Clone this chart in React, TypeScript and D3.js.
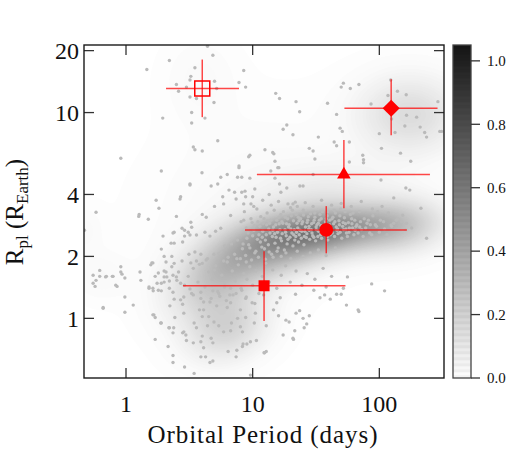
import React from "react";
import * as d3 from "d3";

// ---------- layout ----------
const W = 513;
const H = 451;
const PL = 84, PT = 45, PR = 444, PB = 378;

// ---------- axes ----------
const xDomain: [number, number] = [0.466, 324];
const yDomain: [number, number] = [0.513, 21.3];
const xTicks = [1, 10, 100];
const yTicks = [1, 2, 4, 10, 20];
const cbTicks = [0, 0.2, 0.4, 0.6, 0.8, 1.0];
const cbMax = 1.05;

// ---------- scatter points: [period (days), radius (R_Earth)] ----------
const largePlanetPoints: [number, number][] = [
  [4.4,21],[2.2,17.9],[1.46,16.2],[4.85,19],[3.5,16.5],[3.25,15],[3.2,14.4],[5.0,14.2],[8.5,16],[7.8,14],[8.8,13.3],
  [2.5,13.7],[3.0,13.3],[5.2,13.1],[2.6,12.7],[3.2,11.9],[3.6,11.7],[4.95,11.2],[3.3,10.0],[1.95,9.4],[3.3,8.9],
  [4.2,9.4],[5.3,7.3],[3.5,6.6],[4.0,6.5],[9.5,6.2],[0.91,6.0],
  [123,14.4],[52,13.9],[50,13.3],[59,13.1],[69,13.7],[15.2,12.4],[16.3,11.7],[22,11.3],[23.5,10.1],[39,11.1],
  [46,9.8],[86,11.0],[117,12.1],[139,12.7],[163,12.2],[290,11.3],[125,9.3],[164,9.7],[197,9.5],[159,8.6],
  [210,8.5],[228,8.0],[236,7.6],[133,8.0],[100,7.9],[300,8.1],[18.6,8.7],[17.4,8.3],[20.8,7.8],[33,7.6],
  [49,8.4],[51,8.1],[44,7.2],[46,6.9],[58,7.2],[28,6.7],[30,6.5],[31,5.95],[74,6.2],[104,6.7],[147,6.35],
  [177,5.8],[12.5,6.6],[14.4,6.4],[15,5.8],[58,5.75],[75,5.7],[310,8.1],[3.4,6.8],[9.3,6.1],[7.8,5.4]
];

const subNeptunePoints: [number, number][] = [
  [13.9,5.2],[15,4.8],[16.7,4.1],[18.6,4.3],[13.5,4.0],[16.1,5.4],[30,5.0],[103,4.7],[162,4.3],[130,3.85],
  [213,3.43],[25,4.4],[21.7,3.67],[14.7,6.3],[15.8,5.4],[8.2,4.85],[8.7,4.15],[10,3.9],[16.3,4.5],[23.6,4.4],
  [20.8,3.6],[75,5.9],[174,4.2],[1.9,5.2],[3.98,5.1],[7.8,5.5],[3.2,4.5],[4.7,4.4],[5.3,4.5],[5.6,4.85],
  [6.3,5.0],[7.6,4.85],[9.5,4.8],[10.4,4.25],[6.5,4.2],[7.2,4.1],[8.2,4.1],[5.8,3.9],[7.4,3.8],[8.8,3.9],
  [9.7,3.6],[2.67,3.8],[1.73,3.75],[1.82,3.43],[1.26,3.13],[1.5,3.03],[0.58,3.28],[2.5,3.13],[5.0,3.5],
  [5.9,3.6],[4.0,3.2],[4.3,3.1],[3.2,4.45],[2.7,3.9],[1.27,3.2],
  [236,2.45],[180,2.75],[164,2.9],[136,3.0],[124,2.84],[153,3.17],
  [8.5,3.6],[10.2,3.5],[12.0,3.75],[14.0,3.55],[16.0,3.7],[19.0,3.6],[22.5,3.5],[26.0,3.65],[30.0,3.5],
  [35.0,3.75],[42.0,3.55],[50.0,3.62],[60.0,3.5],[72.0,3.7],[88.0,3.4],[105,3.5]
];

const mainClusterPoints: [number, number][] = [
  [8.1,2.95],[8.6,3.3],[9.2,2.6],[9.7,3.05],[10.3,2.82],[10.8,3.4],[11.2,2.55],[11.6,3.12],[12.1,2.9],[12.6,2.4],
  [13.0,3.25],[13.4,2.72],[13.9,3.0],[14.3,2.5],[14.8,3.35],[15.2,2.85],[15.7,2.62],[16.1,3.1],[16.6,2.45],[17.0,2.95],
  [17.5,3.3],[18.0,2.7],[18.4,2.52],[18.9,3.05],[19.4,2.85],[19.9,3.45],[20.4,2.6],[21.0,2.98],[21.5,2.4],[22.1,3.2],
  [22.7,2.75],[23.3,2.55],[23.9,3.05],[24.5,2.88],[25.1,3.35],[25.8,2.65],[26.5,2.47],[27.2,3.0],[27.9,2.8],[28.6,3.22],
  [29.4,2.6],[30.2,2.92],[31.0,3.1],[31.8,2.7],[32.7,2.5],[33.6,3.0],[34.5,2.83],[35.5,3.3],[36.5,2.62],[37.6,2.95],
  [38.7,3.15],[39.8,2.72],[41.0,2.55],[42.3,3.05],[43.6,2.88],[45.0,3.25],[46.4,2.68],[48.0,2.98],[49.6,3.4],[51.3,2.8],
  [53.0,3.08],[55.0,2.6],[57.0,2.92],[59.2,3.2],[61.5,2.75],[64.0,3.0],[66.5,2.85],[69.5,3.3],[72.5,2.7],[76.0,3.05],
  [80.0,2.9],[84.0,2.6],[89.0,3.15],[95.0,2.8],[102,3.0],[110,2.72],[118,3.25],
  [8.4,2.3],[8.9,2.75],[9.5,2.2],[10.0,2.52],[10.6,2.12],[11.0,2.95],[11.5,2.35],[12.0,2.65],[12.4,2.18],[12.9,2.85],
  [13.3,2.28],[13.7,2.6],[14.1,2.05],[14.6,2.78],[15.0,2.32],[15.5,3.0],[15.9,2.2],[16.4,2.7],[16.9,2.38],[17.3,2.9],
  [17.8,2.15],[18.2,2.62],[18.7,2.3],[19.2,2.78],[19.7,2.48],[20.2,3.15],[20.8,2.25],[21.3,2.7],[21.9,2.5],[22.4,2.9],
  [23.0,2.35],[23.6,2.68],[24.2,2.45],[24.8,2.95],[25.4,2.28],[26.1,2.78],[26.8,2.58],[27.5,3.12],[28.2,2.42],[29.0,2.7],
  [29.8,2.52],[30.6,3.0],[31.4,2.38],[32.2,2.85],[33.1,2.65],[34.0,3.2],[35.0,2.45],[36.0,2.75],[37.0,2.55],[38.1,3.05],
  [39.2,2.4],[40.4,2.85],[41.6,2.65],[43.0,3.1],[44.3,2.5],[45.7,2.78],[47.2,2.58],[48.8,3.15],[50.5,2.45],[52.2,2.7],
  [54.0,2.88],[56.0,2.5],[58.0,2.75],[60.5,3.05],[63.0,2.55],[65.5,2.8],[68.0,2.6],[71.0,2.95],[74.5,2.5],[78.0,2.75],
  [82.0,3.0],[87.0,2.55],[93.0,2.85],[100,2.62],[108,2.95],[125,2.8],[140,3.05],[160,2.7],
  [10.2,2.68],[10.9,2.42],[11.4,2.8],[12.3,3.05],[12.8,2.55],[13.6,2.9],[14.4,2.68],[15.3,2.48],[16.2,2.88],[17.1,2.58],
  [18.1,3.1],[19.0,2.42],[20.0,2.72],[21.1,2.55],[22.2,2.62],[23.2,2.98],[24.4,2.65],[25.6,2.5],[26.9,2.92],[28.0,2.68],
  [29.2,2.88],[30.4,2.48],[31.7,2.78],[33.0,2.9],[34.3,2.55],[35.8,2.7],[37.3,2.85],[38.9,2.5],[40.6,3.0],[42.5,2.6],
  [44.6,2.95],[46.8,2.72],[49.0,2.62],[51.8,2.92],[54.5,2.72],[57.6,2.62],[60.8,2.88],[64.5,2.68],[9.0,2.45],[9.9,2.92],
  [11.9,2.48],[13.1,2.98],[14.9,2.58],[16.7,3.2],[18.5,2.88],[20.6,3.35],[22.9,3.1],[25.2,3.18],[27.7,2.72],[30.9,3.25],
  [34.8,3.05],[39.0,3.3],[43.9,3.35],[48.4,2.85],[53.8,3.3],[62.0,3.25],[70.0,2.78],[85.0,2.85],[97,3.3],[115,2.55],
  [130,2.9],[150,2.95],
  [5.6,2.1],[6.0,2.25],[6.4,1.98],[6.8,2.3],[7.2,2.05],[7.6,2.4],[8.0,1.95],[8.3,2.18],[8.8,2.02],[9.3,2.28],
  [9.8,1.92],[10.4,2.08],[11.1,1.98],[11.8,2.22],[12.6,1.94],[13.5,2.1],[14.5,1.98],[15.6,2.12],[16.8,2.0],[18.3,2.08],
  [20.0,1.95],[22.5,2.12],[25.0,2.0],[28.5,2.08],[33.0,2.15],[38.0,2.02],[45.0,2.2]
];

const superEarthPoints: [number, number][] = [
  [3.25,2.93],[3.3,2.77],[2.77,2.74],[3.1,2.62],[3.2,2.54],[1.96,2.51],[2.4,2.62],[2.9,2.51],[3.6,2.54],[4.2,2.62],
  [4.6,2.51],[5.1,2.65],[5.6,2.74],[6.7,3.16],[8.5,3.0],[2.4,2.32],[2.8,2.35],[1.9,2.17],[2.3,2.0],[2.07,1.88],
  [1.6,1.86],[1.57,1.82],[2.77,1.9],[3.14,2.05],[3.5,2.1],[3.9,2.05],[3.25,1.86],[3.8,1.83],[4.3,1.92],[4.95,2.05],
  [5.4,2.07],[2.35,2.6],[2.9,2.68],[2.27,2.32],[2.0,2.0],[1.63,1.86],
  [3.1,1.6],[3.4,1.75],[3.7,1.5],[4.0,1.85],[4.2,1.42],[4.5,1.68],[4.8,1.55],[5.1,1.8],[5.3,1.35],[5.7,1.62],
  [6.0,1.48],[6.3,1.88],[6.6,1.3],[6.9,1.7],[7.3,1.52],[7.7,1.82],[8.1,1.4],[8.5,1.65],[9.0,1.55],[9.5,1.78],
  [10.0,1.45],[10.6,1.7],[11.2,1.32],[11.9,1.6],[12.7,1.85],[13.5,1.5],[14.4,1.72],[15.5,1.4],[16.8,1.62],[18.2,1.8],
  [19.8,1.5],[22.0,1.7],[24.5,1.45],[27.0,1.65],[31.0,1.55],[36.0,1.75],[42.0,1.6],[3.3,1.32],[3.9,1.25],[4.6,1.2],
  [5.5,1.28],[6.2,1.22],[7.0,1.3],[8.8,1.25],[10.4,1.18],[12.2,1.3],[3.6,1.9],[4.4,1.95],[5.0,1.72],[5.9,1.9],
  [7.5,1.95],[8.9,1.88],[2.9,1.45],[2.6,1.68],[2.4,1.85],[2.2,1.4],[2.0,1.7]
];

const shortPeriodPoints: [number, number][] = [
  [0.62,1.71],[0.91,1.78],[0.91,1.68],[1.29,1.68],[1.8,1.66],[2.07,1.68],[0.47,2.68],[0.55,1.62],[0.58,1.53],[0.57,1.43],
  [0.69,1.59],[0.79,1.6],[0.85,1.43],[0.98,1.27],[1.14,1.16],[0.98,1.07],[0.66,1.12],[1.52,1.4],[1.64,1.36],[1.76,1.48],
  [1.9,1.48],[2.0,1.59],[2.2,1.52],[2.3,1.78],[2.35,1.62],[2.52,1.53],[2.7,1.48],[1.66,1.04],[1.7,1.01],[1.9,0.95],
  [1.7,0.79],[2.2,0.9],[2.35,0.85],[2.35,0.66],[2.15,0.73],[2.35,0.61],[2.8,0.85],[3.45,0.54],[2.9,0.58],
  [0.62,1.6],[0.7,1.6],[0.78,1.6],[0.93,1.64],[0.98,1.57],[0.55,1.48],[0.83,1.45],[1.31,1.53],[1.52,1.42],[1.63,1.4],
  [1.7,1.6],[1.8,1.37],[1.9,1.36],[2.0,1.5],[2.1,1.59],[2.35,1.34],[2.5,1.59],[2.7,1.23],[2.4,1.24],[0.66,1.13],
  [1.63,1.04],[1.88,0.95],[2.18,0.9],[2.38,0.9],[2.43,1.01],[2.22,1.15]
];

const smallPlanetPoints: [number, number][] = [
  [2.8,1.17],[2.86,1.06],[2.86,0.86],[2.97,0.83],[3.45,0.95],[3.4,0.76],[3.0,0.78],[3.9,0.77],[4.0,0.82],[4.7,0.8],
  [4.85,0.76],[4.1,0.72],[4.25,0.65],[3.9,0.65],[4.85,0.62],[4.6,0.61],[7.4,0.65],[7.5,0.7],[6.4,0.69],[8.3,0.73],
  [9.0,0.75],[9.6,0.77],[10.7,0.78],[9.6,0.53],[5.9,0.86],[6.7,0.87],[5.4,0.92],[6.8,0.95],[8.0,0.91],[8.3,0.86],
  [10.3,0.95],[6.3,1.13],[8.0,1.1],[6.7,1.19],[4.7,1.25],[5.2,1.15],[4.1,1.1],[3.8,1.1],[4.0,1.02],[4.5,1.02],
  [4.95,0.96],[4.4,0.92],[3.6,0.9],[3.4,1.3],[2.86,1.27],[3.2,1.39],[3.9,1.34],[4.1,1.2],[4.85,1.36],[5.4,1.32],
  [6.0,1.42],[6.7,1.4],[7.4,1.32],[8.2,1.37],[8.9,1.27],[9.9,1.19],[10.5,1.06],[8.8,1.01],[7.6,1.0],
  [87,1.47],[110,1.36],[55,1.16],[69,1.08],[56,1.59],[37,1.3],[41,1.24],[46,1.31],[50,1.31],[52,1.4],
  [28,1.03],[25,1.0],[22,1.06],[23.5,1.09],[26.7,0.94],[25.5,0.9],[21.5,0.87],[21,0.79],[17.4,0.83],[19.4,0.96],
  [18.3,0.98],[16,1.03],[12.8,0.92],[12.8,0.69],[12.3,0.68],[14.6,1.1],[15.5,1.19],[16.5,1.26],[21.8,1.31],[30.4,1.37],
  [34,1.26],[38,1.42],[20.8,0.8],[12.4,0.68],[8.4,0.75],[68,1.1]
];

// ---------- density field: gaussian components in log10 space ----------
const densLogP = [1.61, 1.14, 0.70, 0.80, 2.16, 2.24, 0.58, 0.98, -0.20, -0.33, 1.60];
const densLogR = [0.424, 0.356, 0.19, -0.05, 0.45, 0.99, 1.16, 0.57, 0.21, 0.43, 0.62];
const densSx   = [0.32, 0.30, 0.25, 0.22, 0.25, 0.28, 0.20, 0.55, 0.15, 0.10, 0.35];
const densSy   = [0.08, 0.11, 0.13, 0.11, 0.09, 0.13, 0.15, 0.30, 0.08, 0.08, 0.10];
const densRho  = [0.25, 0.3, 0.3, 0.2, 0.1, 0.0, 0.0, 0.2, 0.0, 0.0, 0.2];
const densW    = [1.0, 0.8, 0.5, 0.4, 0.5, 0.35, 0.05, 0.06, 0.06, 0.05, 0.14];
const densPeak = 0.62;

// ---------- highlighted planets ----------
const planetShape = ["openSquare", "diamond", "triangle", "circle", "square"];
const planetP   = [4.0, 124, 52.5, 38.1, 12.3];
const planetPLo = [2.07, 53, 10.8, 8.7, 2.82];
const planetPHi = [7.8, 288, 251, 165, 54];
const planetR   = [13.1, 10.5, 5.0, 2.69, 1.44];
const planetRLo = [9.5, 7.76, 3.43, 2.07, 0.97];
const planetRHi = [18.1, 14.5, 7.35, 3.51, 2.12];

const FONT = "'Liberation Serif', 'DejaVu Serif', serif";

export default function App() {
  const x = d3.scaleLog().domain(xDomain).range([PL, PR]);
  const y = d3.scaleLog().domain(yDomain).range([PB, PT]);
  const gray = d3.scaleLinear<string>().domain([0, cbMax]).range(["#f4f4f4", "#141414"]);
  const densGray = d3.scaleLinear<string>().domain([0, cbMax]).range(["#ffffff", "#141414"]);
  const cbY = d3.scaleLinear().domain([0, cbMax]).range([PB, PT]);

  // density grid
  const step = 2;
  const nx = Math.ceil((PR - PL) / step);
  const ny = Math.ceil((PB - PT) / step);
  const vals = new Float64Array(nx * ny);
  let vmax = 0;
  for (let j = 0; j < ny; j++) {
    const lr = Math.log10(y.invert(PT + (j + 0.5) * step));
    for (let i = 0; i < nx; i++) {
      const lp = Math.log10(x.invert(PL + (i + 0.5) * step));
      let s = 0;
      for (let k = 0; k < densW.length; k++) {
        const dx = (lp - densLogP[k]) / densSx[k];
        const dy = (lr - densLogR[k]) / densSy[k];
        const r = densRho[k];
        const z = (dx * dx - 2 * r * dx * dy + dy * dy) / (2 * (1 - r * r));
        s += densW[k] * Math.exp(-z);
      }
      vals[j * nx + i] = s;
      if (s > vmax) vmax = s;
    }
  }
  for (let i = 0; i < vals.length; i++) vals[i] = (vals[i] / vmax) * densPeak;
  const thresholds = d3.range(0.004, densPeak, 0.008);
  const contours = d3.contours().size([nx, ny]).thresholds(thresholds)(Array.from(vals));
  const geo = d3.geoPath(d3.geoIdentity().scale(step).translate([PL, PT]) as any);

  const allPoints = [
    ...largePlanetPoints, ...subNeptunePoints, ...mainClusterPoints,
    ...superEarthPoints, ...shortPeriodPoints, ...smallPlanetPoints,
  ];

  const errColor = "rgba(255,0,0,0.72)";
  const tickColor = "#333";

  const cbBands = d3.range(0, 111);
  const bandH = (PB - PT) / cbBands.length;

  const sym = (shape: string) => {
    if (shape === "circle") return d3.symbol(d3.symbolCircle, 150)();
    if (shape === "triangle") return d3.symbol(d3.symbolTriangle, 80)();
    if (shape === "square") return d3.symbol(d3.symbolSquare, 121)();
    if (shape === "openSquare") return d3.symbol(d3.symbolSquare, 225)();
    return d3.symbol(d3.symbolSquare, 145)();
  };

  return (
    <svg width={W} height={H} style={{ position: "absolute", left: 0, top: 0, background: "#fff" }}
      fontFamily={FONT}>
      <defs>
        <clipPath id="plotClip">
          <rect x={PL} y={PT} width={PR - PL} height={PB - PT} />
        </clipPath>
      </defs>
      <rect x={0} y={0} width={W} height={H} fill="#fff" />
      <g clipPath="url(#plotClip)">
        {contours.map((c, i) => (
          <path key={i} d={geo(c as any) || ""} fill={densGray(c.value + 0.004)} stroke="none" />
        ))}
        {allPoints.map((p, i) => (
          <circle key={i} cx={x(p[0])} cy={y(p[1])} r={1.7} fill="#bababa" />
        ))}
        {planetShape.map((s, i) => (
          <g key={i}>
            <line x1={x(planetPLo[i])} x2={x(planetPHi[i])} y1={y(planetR[i])} y2={y(planetR[i])}
              stroke={errColor} strokeWidth={1.5} />
            <line x1={x(planetP[i])} x2={x(planetP[i])} y1={y(planetRLo[i])} y2={y(planetRHi[i])}
              stroke={errColor} strokeWidth={1.5} />
            <path d={sym(s) || ""}
              transform={`translate(${x(planetP[i])},${y(planetR[i])})${s === "diamond" ? " rotate(45)" : ""}`}
              fill={s === "openSquare" ? "none" : "#ff0000"}
              stroke={s === "openSquare" ? "#ff0000" : "none"} strokeWidth={1.5} />
          </g>
        ))}
      </g>

      {/* ticks */}
      {xTicks.map((t) => (
        <g key={"xt" + t}>
          <line x1={x(t)} x2={x(t)} y1={PB} y2={PB - 10} stroke={tickColor} strokeWidth={1.3} />
          <line x1={x(t)} x2={x(t)} y1={PT} y2={PT + 10} stroke={tickColor} strokeWidth={1.3} />
          <text x={x(t)} y={412} textAnchor="middle" fontSize={24} fill="#111">{t}</text>
        </g>
      ))}
      {yTicks.map((t) => (
        <g key={"yt" + t}>
          <line x1={PL} x2={PL + 10} y1={y(t)} y2={y(t)} stroke={tickColor} strokeWidth={1.3} />
          <line x1={PR} x2={PR - 10} y1={y(t)} y2={y(t)} stroke={tickColor} strokeWidth={1.3} />
          <text x={79} y={y(t)} dy="0.35em" textAnchor="end" fontSize={24} fill="#111">{t}</text>
        </g>
      ))}
      <rect x={PL} y={PT} width={PR - PL} height={PB - PT} fill="none" stroke="#1a1a1a" strokeWidth={1.4} />

      {/* axis labels */}
      <text x={263} y={443} textAnchor="middle" fontSize={25} fill="#111" letterSpacing={0.95}>
        Orbital Period (days)
      </text>
      <text transform="translate(23,212) rotate(-90)" textAnchor="middle" fontSize={25} fill="#111">
        R<tspan fontSize={17} dy={5}>pl</tspan>
        <tspan dy={-5}> (R</tspan>
        <tspan fontSize={17} dy={5}>Earth</tspan>
        <tspan dy={-5}>)</tspan>
      </text>

      {/* colorbar */}
      <g>
        {cbBands.map((b) => {
          const v = ((b + 0.5) / cbBands.length) * cbMax;
          const c = d3.color(gray(v))!;
          const col = b % 2 === 0 ? c.formatHex() : c.brighter(0.12).formatHex();
          return (
            <rect key={b} x={453} y={PB - (b + 1) * bandH} width={18} height={bandH + 0.3} fill={col} />
          );
        })}
        <rect x={453} y={PT} width={18} height={PB - PT} fill="none" stroke="#444" strokeWidth={1.3} />
        {cbTicks.map((t) => (
          <g key={"cb" + t}>
            <line x1={471} x2={480} y1={cbY(t)} y2={cbY(t)} stroke={tickColor} strokeWidth={1.3} />
            <text x={487} y={cbY(t)} dy="0.35em" fontSize={15} fill="#111">{t.toFixed(1)}</text>
          </g>
        ))}
      </g>
    </svg>
  );
}
